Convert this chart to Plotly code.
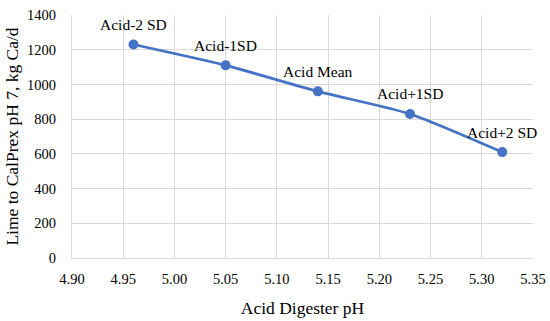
import plotly.graph_objects as go

ph = [4.96, 5.05, 5.14, 5.23, 5.32]
lime = [1230, 1110, 960, 830, 610]
labels = ["Acid-2 SD", "Acid-1SD", "Acid Mean", "Acid+1SD", "Acid+2 SD"]

FONT = "Liberation Serif"
BLUE = "#4472C4"
GRID = "#D9D9D9"

fig = go.Figure()
fig.add_trace(go.Scatter(
    x=ph, y=lime, mode="lines+markers",
    line=dict(color=BLUE, width=2.75, shape="spline", smoothing=0.6),
    marker=dict(color=BLUE, size=10),
    showlegend=False,
))
for xv, yv, t in zip(ph, lime, labels):
    fig.add_annotation(x=xv, y=yv, text=t, showarrow=False, yshift=20,
                       font=dict(family=FONT, size=15.5, color="#000"))

fig.update_layout(
    width=550, height=321,
    margin=dict(l=72, r=17, t=15, b=63),
    paper_bgcolor="white", plot_bgcolor="white",
    font=dict(family=FONT, size=14.5, color="#000"),
    xaxis=dict(range=[4.90, 5.35], dtick=0.05, tick0=4.90, tickformat=".2f",
               showgrid=True, gridcolor=GRID, gridwidth=1, automargin=False,
               showline=True, linecolor=GRID, mirror=False, zeroline=False,
               ticks="", ticklabelstandoff=8,
               tickfont=dict(family=FONT, size=14.5, color="#000"),
               title=dict(text="Acid Digester pH", font=dict(family=FONT, size=17.5), standoff=15)),
    yaxis=dict(range=[0, 1400], dtick=200, showgrid=True, gridcolor=GRID, gridwidth=1,
               showline=True, linecolor=GRID, zeroline=False, ticks="", automargin=False,
               ticklabelstandoff=12,
               tickfont=dict(family=FONT, size=14.5, color="#000"),
               title=dict(text="Lime to CalPrex pH 7, kg Ca/d", font=dict(family=FONT, size=17.5), standoff=3)),
)
fig.write_html("out.html", config={"displayModeBar": False},
               post_script="document.body.style.margin='0';document.body.style.padding='0';")
